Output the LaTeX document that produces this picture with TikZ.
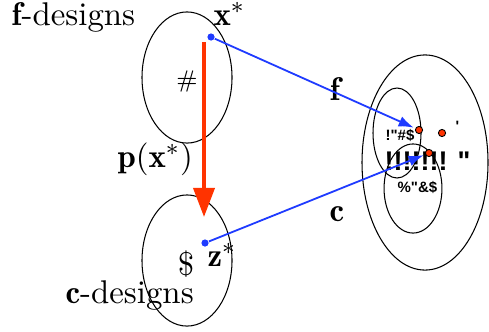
\documentclass[tikz,border=0pt,11pt]{standalone}
\usepackage{fontspec}
\newfontfamily\garbled[Ligatures=TeXOff]{Liberation Sans}
\usetikzlibrary{arrows.meta,shapes.geometric}
\definecolor{setblue}{HTML}{1F3BFF}
\definecolor{pathred}{HTML}{FF3300}
\tikzset{designset/.style={draw,ellipse,line width=.35pt,inner sep=0pt}, lbl/.style={inner sep=0pt}, glyph/.style={inner sep=0pt,font=\garbled\bfseries}, dot/.style={circle,inner sep=0pt,minimum size=2.4pt}, bluedot/.style={dot,fill=setblue}, reddot/.style={dot,draw=black,line width=.3pt,fill=pathred}, mapto/.style={-{Latex[length=5pt,width=3.6pt]},line width=.6pt,draw=setblue,shorten >=.6pt}, proj/.style={-{Triangle[length=9.7pt,width=7pt]},line width=1.3pt,draw=pathred}}
\begin{document}
\begin{tikzpicture}[x=.3333pt,y=-.3333pt]
\useasboundingbox (0,0) rectangle (489,331);
% design sets
\node[designset,minimum width=30pt,minimum height=43.7pt] (F) at (187,77.5) {};
\node[designset,minimum width=30pt,minimum height=43.7pt] (C) at (187,260.5) {};
\node[designset,minimum width=42pt,minimum height=71.7pt] (Y) at (425,162.5) {};
\node[designset,minimum width=16pt,minimum height=30pt] (Yf) at (397,133) {};
\node[designset,minimum width=19.3pt,minimum height=29.7pt] (Yc) at (413,188.5) {};
% labels
\node[lbl,anchor=base west] (fd) at (11,25) {$\mathbf{f}$-designs};
\node[lbl,anchor=base west] (cd) at (65,303) {$\mathbf{c}$-designs};
\node[lbl,anchor=base west] (xl) at (213,25) {$\mathbf{x}^*$};
\node[lbl,anchor=base west] (zl) at (207,266) {$\mathbf{z}^*$};
\node[lbl,anchor=base west] (pl) at (117,167) {$\mathbf{p}(\mathbf{x}^*)$};
\node[lbl,anchor=base] (fl) at (335,100) {$\mathbf{f}$};
\node[lbl,anchor=base] (cl) at (337,221) {$\mathbf{c}$};
\node[lbl,anchor=base] (hs) at (187,87) {\fontsize{8}{9}\selectfont\#};
\node[lbl,anchor=base] (ds) at (186,275) {\$};
\node[glyph,anchor=base west] (g1) at (385,140) {\fontsize{5}{6}\selectfont !"\#\$};
\node[glyph,anchor=base west] (g2) at (384,170) {\fontsize{9}{10}\selectfont !!!!!!! "};
\node[glyph,anchor=base west] (g3) at (397,192) {\fontsize{5}{6}\selectfont \%"\&\$};
\node[glyph,anchor=base west] (g4) at (455,131) {\fontsize{5}{6}\selectfont '};
% points
\node[bluedot] (x) at (211,37) {};
\node[bluedot] (z) at (205,243) {};
\node[reddot] (r1) at (419,130) {};
\node[reddot] (r2) at (442,133) {};
\node[reddot] (r3) at (429,153) {};
\coordinate (p0) at (204,42);
\coordinate (p1) at (204,217);
% maps
\draw[proj] (p0)--(p1);
\draw[mapto] (x)--(r1);\draw[mapto] (z)--(r3);
\end{tikzpicture}
\end{document}
